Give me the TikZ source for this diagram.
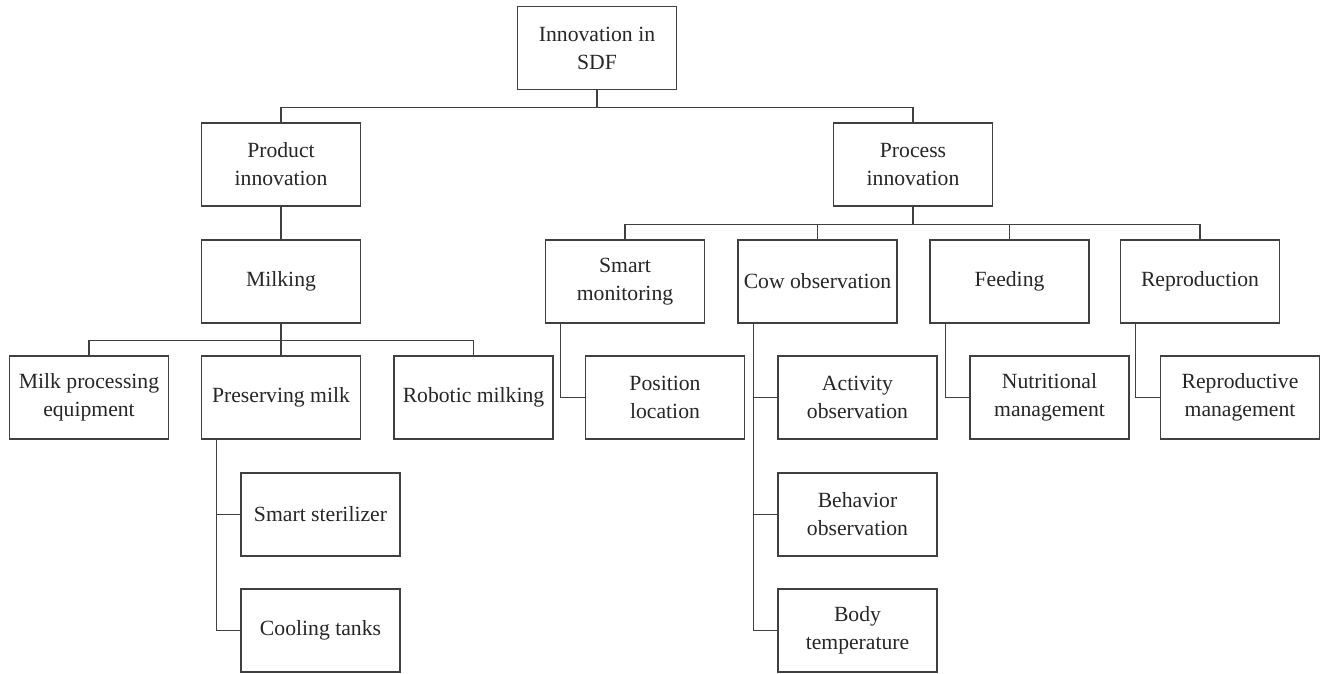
\documentclass[tikz,border=0pt]{standalone}
\usepackage{fontspec}
\setmainfont{Liberation Serif}
\usepackage{xcolor}
\usepackage{tikz}
\tikzset{
  topicnode/.style={rectangle,draw=black!75,line width=1.3pt,text=black!85,
    minimum width=4.77cm,minimum height=2.49cm,inner sep=1pt,align=center,
    font=\fontsize{18.5}{24}\selectfont},
  treeedge/.style={line width=1.2pt,black!75}
}

\begin{document}
\begin{tikzpicture}[x=0.03cm,y=-0.03cm]
  \useasboundingbox (0,0) rectangle (1320,673);
  \node[topicnode] (sdf) at (597,48) {Innovation in\\SDF};
  \node[topicnode] (product) at (281,164.5) {Product\\innovation};
  \node[topicnode] (process) at (913,164.5) {Process\\innovation};
  \node[topicnode] (milking) at (281,281.5) {Milking};
  \node[topicnode] (smartmon) at (625,281.5) {Smart\\monitoring};
  \node[topicnode] (cowobs) at (817.5,281.5) {Cow observation};
  \node[topicnode] (feeding) at (1009.5,281.5) {Feeding};
  \node[topicnode] (reprod) at (1200,281.5) {Reproduction};
  \node[topicnode] (milkproc) at (89,397.5) {Milk processing\\equipment};
  \node[topicnode] (preserve) at (281,397.5) {Preserving milk};
  \node[topicnode] (robotic) at (473.5,397.5) {Robotic milking};
  \node[topicnode] (position) at (665,397.5) {Position\\location};
  \node[topicnode] (activity) at (857.5,397.5) {Activity\\observation};
  \node[topicnode] (nutrition) at (1049.5,397.5) {Nutritional\\management};
  \node[topicnode] (reproman) at (1240,397.5) {Reproductive\\management};
  \node[topicnode] (sterilizer) at (320.5,514.5) {Smart sterilizer};
  \node[topicnode] (cooling) at (320.5,630.5) {Cooling tanks};
  \node[topicnode] (behavior) at (857.5,514.5) {Behavior\\observation};
  \node[topicnode] (bodytemp) at (857.5,630.5) {Body\\temperature};

  \draw[treeedge] (sdf.south) -- ++(0,17) -| (product.north);
  \draw[treeedge] (sdf.south) -- ++(0,17) -| (process.north);
  \draw[treeedge] (product) -- (milking);
  \foreach \leaf in {milkproc,preserve,robotic}
    \draw[treeedge] (milking.south) -- ++(0,17) -| (\leaf.north);
  \foreach \leaf in {smartmon,cowobs,feeding,reprod}
    \draw[treeedge] (process.south) -- ++(0,18) -| (\leaf.north);
  \foreach \parent/\leaf in {smartmon/position,cowobs/activity,cowobs/behavior,
      cowobs/bodytemp,feeding/nutrition,reprod/reproman,preserve/sterilizer,
      preserve/cooling}
    \draw[treeedge] ([xshift=0.48cm]\parent.south west) |- (\leaf.west);
\end{tikzpicture}
\end{document}
